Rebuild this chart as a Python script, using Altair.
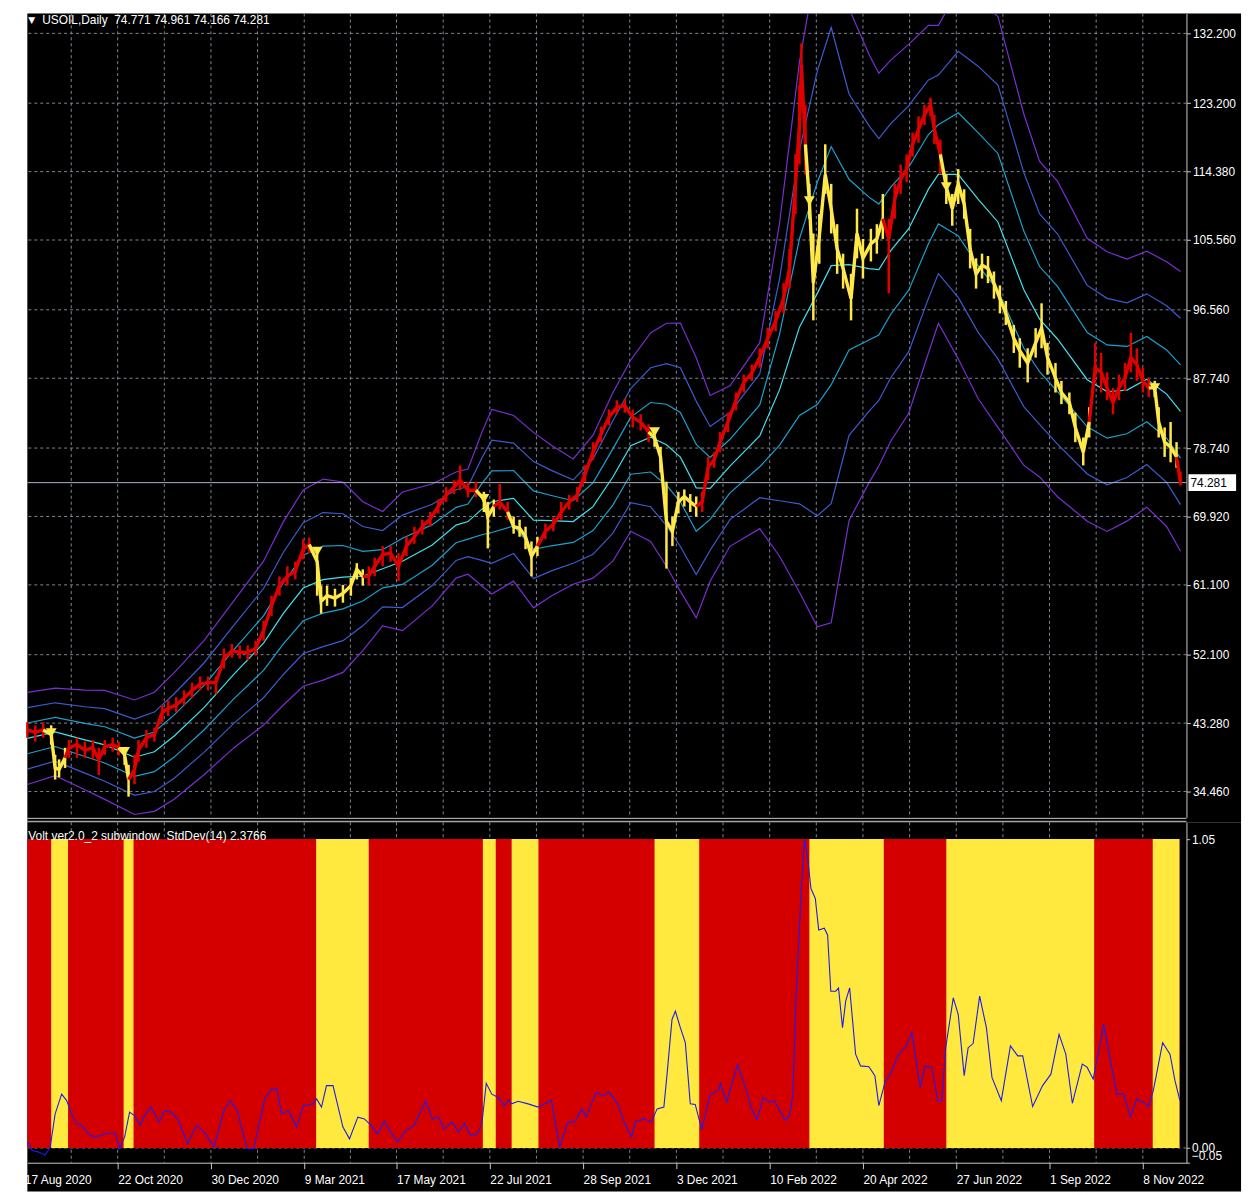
import json
import altair as alt
import pandas as pd

# ---------------- data ----------------
# x positions are bar numbers counted from the left edge of the chart
price_bar = [0, 4, 8, 12, 14, 16, 19, 21, 25, 29, 33, 36, 39, 43, 46, 49, 51, 54, 56, 60,
             64, 68, 71, 75, 79, 83, 87, 91, 95, 99, 103, 107, 111, 115, 119, 123, 127, 131, 135, 139,
             142, 146, 148, 151, 155, 159, 163, 166, 169, 172, 175, 179, 183, 187, 191, 195, 199, 203, 207, 211,
             215, 218, 222, 226, 230, 232, 235, 238, 242, 245, 248, 251, 254, 257, 261, 265, 269, 273, 277, 281,
             285, 289, 293, 297, 301, 305, 309, 313, 316, 319, 322, 325, 328, 331, 334, 337, 340, 343, 346, 349,
             353, 357, 361, 365, 369, 373, 377, 381, 384, 387, 389, 390, 392, 394, 396, 399, 402, 405, 408, 411,
             415, 418, 421, 425, 428, 431, 434, 437, 440, 443, 446, 449, 452, 455, 457, 460, 463, 466, 469, 472,
             475, 478, 481, 484, 487, 490, 493, 497, 500, 504, 508, 511, 514, 518, 521, 525, 528, 532, 535, 538,
             541, 544, 547, 550, 553, 556, 559, 562, 565, 568, 570, 573, 576, 579, 581]
price_close = [42.4, 42.1, 42.4, 41.8, 37.5, 37.3, 38.8, 40.1, 40.5, 39.8, 40.1, 38.6, 40.2, 40.5, 40.1, 39.2, 36.0, 37.3, 39.8, 41.4,
               41.8, 44.7, 45.2, 45.6, 46.5, 47.5, 48.3, 48.5, 48.5, 51.6, 52.6, 52.4, 52.4, 52.9, 55.2, 58.4, 61.0, 62.2, 62.9, 65.7,
               66.3, 64.1, 59.0, 59.7, 59.4, 60.0, 61.0, 63.1, 62.2, 62.2, 63.5, 65.0, 65.2, 63.5, 66.1, 67.3, 68.6, 69.6, 71.2, 72.7,
               73.7, 74.6, 73.3, 73.3, 72.2, 69.9, 71.2, 71.8, 70.5, 68.6, 68.4, 67.3, 64.8, 66.1, 68.0, 68.9, 70.5, 71.8, 72.7, 75.4,
               78.2, 80.5, 82.7, 84.0, 84.2, 82.7, 82.1, 80.8, 80.1, 77.6, 69.3, 68.0, 71.8, 72.5, 71.8, 71.2, 71.8, 76.3, 77.2, 79.5,
               82.1, 84.9, 87.2, 88.4, 90.4, 92.9, 95.1, 98.0, 101.9, 112.8, 120.4, 128.1, 117.9, 110.6, 100.0, 106.0, 114.0, 109.6, 104.4, 101.9,
               98.0, 106.4, 103.2, 105.1, 105.7, 108.3, 105.7, 110.8, 113.4, 114.7, 117.9, 119.8, 121.7, 123.0, 119.8, 116.6, 112.4, 109.6, 112.8, 110.2,
               104.4, 101.2, 102.3, 101.9, 100.0, 98.0, 96.1, 92.9, 91.3, 89.7, 92.3, 94.2, 90.4, 87.8, 85.9, 84.6, 81.4, 78.2, 82.1, 89.1,
               88.5, 86.5, 84.6, 86.5, 87.8, 90.4, 89.5, 87.4, 86.5, 86.5, 82.1, 79.5, 78.9, 77.6, 74.28]
price_high = [43.4, 43.0, 43.4, 43.0, 39.2, 38.6, 40.1, 41.1, 41.4, 40.9, 41.1, 40.1, 41.1, 41.4, 40.9, 40.1, 37.9, 39.2, 41.1, 42.4,
              42.7, 45.6, 46.2, 46.6, 47.5, 48.5, 49.3, 49.3, 49.3, 52.9, 53.5, 53.3, 53.3, 53.9, 56.5, 59.7, 62.2, 63.5, 64.1, 67.0,
              67.2, 65.7, 61.0, 61.0, 60.6, 61.1, 62.0, 63.9, 63.1, 63.5, 64.6, 66.1, 66.1, 65.2, 67.3, 68.6, 69.5, 70.5, 72.1, 73.7,
              74.6, 76.5, 74.4, 74.4, 73.1, 71.8, 72.1, 74.1, 71.8, 69.9, 69.5, 68.6, 66.7, 67.3, 69.0, 69.8, 71.8, 72.7, 73.7, 76.5,
              79.5, 81.5, 83.7, 84.9, 85.1, 83.7, 83.1, 81.8, 81.0, 78.9, 74.4, 69.9, 73.1, 73.4, 72.8, 72.5, 73.1, 77.6, 78.2, 80.8,
              83.3, 85.9, 88.2, 89.5, 91.6, 94.2, 96.4, 100.0, 104.4, 116.6, 125.5, 130.9, 123.0, 112.8, 106.4, 108.9, 117.9, 112.8, 107.6, 103.8,
              101.2, 109.6, 105.7, 107.0, 107.6, 111.5, 108.3, 112.8, 115.3, 116.6, 119.4, 121.5, 123.0, 123.9, 121.7, 118.5, 114.0, 111.5, 114.7, 112.1,
              107.0, 103.2, 103.8, 103.5, 101.5, 99.7, 97.7, 94.6, 92.9, 91.6, 94.2, 97.4, 92.3, 89.7, 87.4, 85.9, 83.3, 80.1, 84.0, 92.3,
              91.0, 88.5, 86.5, 88.2, 89.7, 93.6, 91.6, 89.1, 87.8, 87.4, 84.0, 81.4, 82.1, 79.5, 75.7]
price_low = [41.4, 40.9, 41.4, 40.5, 36.0, 36.3, 37.5, 38.8, 38.8, 38.8, 38.6, 36.6, 39.2, 39.6, 39.1, 37.9, 33.8, 35.4, 38.3, 40.1,
             40.9, 43.4, 44.2, 44.7, 45.6, 46.5, 47.5, 47.5, 47.0, 50.3, 51.7, 51.6, 51.4, 52.0, 53.9, 57.1, 59.7, 61.0, 61.8, 64.4,
             65.2, 59.7, 57.4, 58.4, 58.3, 58.8, 59.7, 61.8, 61.0, 61.0, 62.2, 63.5, 64.1, 61.6, 64.8, 66.4, 67.6, 68.6, 70.3, 71.8,
             72.8, 73.3, 72.4, 72.4, 70.5, 65.8, 69.9, 70.8, 69.5, 67.7, 67.3, 65.7, 62.2, 64.8, 67.0, 68.0, 69.5, 70.8, 71.8, 74.4,
             77.2, 79.5, 81.7, 83.1, 83.3, 81.4, 81.0, 79.5, 78.9, 75.6, 63.2, 66.1, 70.3, 71.2, 70.5, 69.9, 70.5, 74.6, 76.2, 78.2,
             80.8, 83.6, 85.9, 87.4, 89.1, 91.6, 93.8, 96.1, 99.3, 108.9, 115.3, 123.0, 114.0, 108.3, 95.2, 102.5, 111.5, 106.4, 101.2, 99.3,
             95.2, 103.2, 100.6, 102.8, 103.8, 105.7, 98.7, 108.3, 111.5, 113.0, 116.3, 118.1, 120.4, 121.5, 117.9, 114.0, 110.2, 107.4, 110.2, 108.3,
             101.9, 99.3, 100.6, 100.0, 98.0, 96.1, 94.6, 91.0, 89.1, 87.2, 90.4, 91.6, 88.2, 85.9, 84.4, 83.1, 79.5, 76.5, 80.1, 87.2,
             85.9, 84.9, 83.1, 84.9, 86.1, 88.5, 87.4, 85.9, 85.3, 85.3, 80.1, 77.6, 76.9, 76.2, 73.9]

# yellow regime spans (bars); everything else up to last_bar is red
yellow_start = [12, 48.5, 145.5, 229.5, 244, 316, 394, 463, 567]
yellow_end = [20.5, 53.5, 172, 236, 257.5, 338.5, 431.5, 537.5, 580.5]
last_bar = 580.5

# envelope: middle line and deviation, lines drawn at mid + k * dev
band_bar = [0, 14, 29, 39, 54, 64, 74, 89, 104, 119, 129, 139, 149, 159, 169, 179, 189, 204, 216, 222,
            229, 234, 245, 255, 264, 275, 285, 295, 304, 314, 322, 329, 337, 344, 354, 369, 379, 389, 398, 405,
            414, 424, 429, 435, 444, 454, 459, 469, 479, 489, 502, 510, 519, 534, 544, 554, 564, 574, 581]
band_mid = [41.31, 42.14, 41.11, 40.47, 38.88, 39.58, 41.62, 45.27, 49.56, 53.59, 57.43, 60.69, 61.78, 62.09, 62.22, 63.18, 64.14, 66.25, 68.81, 69.26,
            70.86, 71.82, 72.26, 69.45, 69.38, 69.26, 71.18, 75.01, 79.05, 80.13, 79.17, 77.57, 73.61, 73.54, 76.42, 80.32, 86.27, 94.33, 98.68, 102.26,
            102.39, 101.88, 101.75, 104.18, 106.99, 112.12, 114.03, 114.03, 110.83, 107.89, 99.19, 95.36, 92.8, 87.55, 86.02, 86.21, 87.62, 85.7, 83.46]
band_dev = [1.98, 1.88, 2.14, 2.34, 2.46, 2.56, 2.72, 2.88, 3.16, 3.52, 3.94, 4.22, 4.32, 4.09, 3.20, 2.46, 2.98, 2.62, 2.28, 2.26,
            3.30, 3.97, 3.56, 3.77, 3.24, 2.69, 3.07, 3.62, 3.68, 4.48, 5.22, 5.76, 5.59, 3.99, 3.45, 3.99, 7.16, 11.39, 14.33, 15.35,
            11.0, 9.21, 8.44, 8.19, 7.93, 7.04, 6.40, 7.93, 8.57, 8.83, 7.55, 6.78, 6.78, 6.08, 6.01, 5.63, 5.50, 5.69, 6.01]
band_mult = [-3, -2, -1, 0, 1, 2, 3]

# StdDev(14) sub-window line
sd_bar = [0, 2.3, 5.7, 9, 11.5, 14, 17.3, 19.8, 22.3, 24.8, 27.3, 30.7, 34, 37.3, 40.7, 44.3, 46.5, 49, 51.5, 54,
          57, 59, 62.3, 66.5, 69, 72.3, 75.7, 80.7, 85.3, 89.8, 94, 99, 102.3, 105.7, 110.7, 114, 119.8, 123.2, 125.7, 128.2,
          131.5, 135.7, 139, 144, 145.7, 148.2, 150.7, 154, 159, 162.3, 166.5, 169.8, 173.2, 176.5, 179.8, 183.2, 186.5, 190.7, 194.8, 200.7,
          204, 207.3, 209.8, 214, 217.3, 220.3, 223.2, 226.5, 229, 231.2, 234, 237.3, 240.3, 242.3, 244, 247.3, 252.3, 257.3, 264, 268.2,
          272.3, 275.7, 279.3, 281.5, 286.5, 289.8, 293.2, 297.3, 300.7, 304.3, 306.5, 310.7, 314.3, 317.3, 320.7, 322.3, 324.8, 326.5, 329, 331.5,
          334, 336.5, 339.8, 344, 348.2, 349.3, 352.3, 355.7, 357.8, 362.3, 364.8, 367.7, 370.7, 374, 376.5, 379, 381.8, 384, 385.7, 387.3,
          389.8, 391.5, 393.2, 394.8, 397, 398.7, 401.5, 403.2, 404.8, 407.3, 408.7, 410.7, 412.3, 414.3, 417.3, 419.8, 424, 427, 429, 432.3,
          434.8, 439, 442.3, 445.7, 449.8, 452.3, 455.7, 458.7, 460.7, 462.7, 466.5, 469, 472, 474, 476.5, 479.8, 483.2, 486, 490.7, 495.3,
          499, 501.5, 506.5, 511.5, 515.7, 519.8, 523.2, 526.5, 531.5, 534, 537, 542.3, 545.7, 549, 552.3, 555.7, 559, 562.3, 564.8, 567.3,
          572, 575.7, 578.2, 580.7]
sd_val = [0.020, -0.008, -0.014, -0.024, 0.003, 0.116, 0.183, 0.161, 0.116, 0.082, 0.077, 0.048, 0.037, 0.044, 0.051, 0.051, -0.002, 0.037, 0.122, 0.110,
          0.077, 0.110, 0.139, 0.088, 0.127, 0.122, 0.099, 0.015, 0.077, 0.048, 0.003, 0.127, 0.161, 0.127, -0.002, -0.002, 0.172, 0.200, 0.200, 0.116,
          0.127, 0.071, 0.144, 0.150, 0.167, 0.139, 0.212, 0.212, 0.071, 0.031, 0.105, 0.099, 0.077, 0.048, 0.091, 0.054, 0.020, 0.060, 0.077, 0.159,
          0.099, 0.105, 0.065, 0.088, 0.054, 0.084, 0.043, 0.046, 0.082, 0.220, 0.183, 0.172, 0.144, 0.163, 0.150, 0.159, 0.150, 0.139, 0.163, 0.003,
          0.088, 0.088, 0.133, 0.105, 0.189, 0.178, 0.189, 0.150, 0.088, 0.037, 0.091, 0.099, 0.088, 0.133, 0.139, 0.251, 0.437, 0.465, 0.409, 0.358,
          0.150, 0.148, 0.062, 0.183, 0.195, 0.220, 0.155, 0.234, 0.283, 0.195, 0.133, 0.096, 0.172, 0.155, 0.161, 0.127, 0.094, 0.110, 0.183, 0.521,
          0.859, 1.051, 0.983, 0.882, 0.848, 0.741, 0.747, 0.724, 0.533, 0.533, 0.544, 0.409, 0.499, 0.544, 0.319, 0.279, 0.276, 0.246, 0.144, 0.229,
          0.251, 0.319, 0.341, 0.392, 0.206, 0.279, 0.274, 0.161, 0.161, 0.341, 0.510, 0.454, 0.246, 0.341, 0.355, 0.516, 0.409, 0.240, 0.161, 0.347,
          0.313, 0.313, 0.141, 0.212, 0.251, 0.386, 0.319, 0.152, 0.285, 0.274, 0.234, 0.420, 0.296, 0.183, 0.183, 0.105, 0.167, 0.155, 0.141, 0.195,
          0.358, 0.319, 0.229, 0.161]

# regime-change arrows
arrow_bar = [12, 49, 146, 230, 316, 394, 463, 568]
arrow_val = [42.0, 39.6, 65.4, 72.2, 80.8, 110.6, 112.4, 86.5]

date_ticks = [-1.25, 45.5, 92.5, 139.5, 186, 233, 280, 327, 374, 421, 468, 515, 562]
date_labels = ["17 Aug 2020", "22 Oct 2020", "30 Dec 2020", "9 Mar 2021", "17 May 2021", "22 Jul 2021",
               "28 Sep 2021", "3 Dec 2021", "10 Feb 2022", "20 Apr 2022", "27 Jun 2022", "1 Sep 2022", "8 Nov 2022"]
price_ticks = [34.46, 43.28, 52.1, 61.1, 69.92, 78.74, 87.74, 96.56, 105.56, 114.38, 123.2, 132.2]
sub_ticks = [1.05, 0.0, -0.05]
hist_top = 1.05
hist_bottom = 0.0
ohlc = [74.771, 74.961, 74.166, 74.281]
symbol = "USOIL,Daily"
sub_title = "Volt ver2.0_2 subwindow\u00a0\u00a0StdDev(14) 2.3766"

# ---------------- styling ----------------
W = 1168
H_TOP = 810
H_SUB = 343
FONT = "Liberation Sans"
GRID = "#7d8894"
AXIS = "#c8c8c8"
RED_C = "#e00000"
YEL_C = "#ffe84a"
RED_B = "#d40000"
YEL_B = "#ffe93e"
SD_C = "#1c1cf0"
BAND_COLORS = ["#7a2fd2", "#3d5bd0", "#1aa2cf", "#3fe2ef", "#1aa2cf", "#3d5bd0", "#7a2fd2"]

xs = alt.Scale(domain=[0, 584], nice=False, zero=False)
ys = alt.Scale(domain=[31.13, 134.76], nice=False, zero=False)
ys2 = alt.Scale(domain=[-0.05, 1.107], nice=False, zero=False)


def regime(b):
    for s, e in zip(yellow_start, yellow_end):
        if s <= b < e:
            return "Y"
    return "R"


price_df = pd.DataFrame({"bar": price_bar, "close": price_close, "high": price_high, "low": price_low})
price_df["regime"] = [regime(b) for b in price_bar]

seg_rows = []
seg = 0
prev = None
for i, row in price_df.iterrows():
    if prev is not None and row["regime"] != prev["regime"]:
        seg += 1
        seg_rows.append({"bar": prev["bar"], "close": prev["close"], "regime": row["regime"], "seg": seg})
    seg_rows.append({"bar": row["bar"], "close": row["close"], "regime": row["regime"], "seg": seg})
    prev = row
seg_df = pd.DataFrame(seg_rows)

band_rows = []
for k in band_mult:
    for b, m, d in zip(band_bar, band_mid, band_dev):
        band_rows.append({"bar": b, "v": m + k * d, "k": k})
band_df = pd.DataFrame(band_rows)

in_ticks = [t for t in date_ticks if t >= 0]
grid_bars = in_ticks + [(a + b) / 2 for a, b in zip(date_ticks, date_ticks[1:])]
grid_df = pd.DataFrame({"bar": grid_bars})

x_top = alt.Axis(title=None, grid=False, labels=False, ticks=False, domain=False)
y_top_axis = alt.Axis(orient="right", values=price_ticks, format=".3f", title=None, grid=False,
                      domainColor=AXIS, tickColor=AXIS, tickSize=4, labelColor="white",
                      labelFont=FONT, labelFontSize=12, labelPadding=2, labelOverlap=False, zindex=1)

in_labels = [lab for t, lab in zip(date_ticks, date_labels) if t >= 0]
label_expr = f"{json.dumps(in_labels)}[indexof({json.dumps(in_ticks)}, datum.value)]"
x_sub_axis = alt.Axis(orient="bottom", values=in_ticks, labelExpr=label_expr, title=None, grid=False,
                      domainColor=AXIS, tickColor=AXIS, tickSize=6, labelColor="white",
                      labelFont=FONT, labelFontSize=12, labelAlign="left", labelBaseline="top",
                      labelPadding=6, labelFlush=False, labelOverlap=False, zindex=1)
y_sub_axis = alt.Axis(orient="right", values=sub_ticks, format=".2f", title=None, grid=False,
                      domainColor=AXIS, tickColor=AXIS, tickSize=3, labelColor="white",
                      labelFont=FONT, labelFontSize=12, labelPadding=2, labelOverlap=False, zindex=1,
                      labelBaseline={"condition": {"test": "datum.value < 0", "value": "bottom"}, "value": "middle"})

one = pd.DataFrame({"a": [0]})

# ---------------- upper panel ----------------
bg_top = alt.Chart(one).mark_rect(color="black").encode(
    x=alt.value(0), x2=alt.value(W + 55), y=alt.value(0), y2=alt.value(H_TOP + 5))
hgrid = alt.Chart(pd.DataFrame({"v": price_ticks})).mark_rule(color=GRID, strokeDash=[3, 3], strokeWidth=1).encode(
    y=alt.Y("v:Q", scale=ys, axis=y_top_axis))
vgrid = alt.Chart(grid_df).mark_rule(color=GRID, strokeDash=[3, 3], strokeWidth=1).encode(
    x=alt.X("bar:Q", scale=xs, axis=x_top))
bands = alt.Chart(band_df).mark_line(strokeWidth=1.2, clip=True).encode(
    x=alt.X("bar:Q", scale=xs, axis=x_top),
    y=alt.Y("v:Q", scale=ys, axis=y_top_axis),
    color=alt.Color("k:N", scale=alt.Scale(domain=band_mult, range=BAND_COLORS), legend=None),
    detail="k:N")
last_line = alt.Chart(pd.DataFrame({"v": [ohlc[3]]})).mark_rule(color="#a9b3bf", strokeWidth=1).encode(
    y=alt.Y("v:Q", scale=ys, axis=y_top_axis))
regime_color = alt.Color("regime:N", scale=alt.Scale(domain=["R", "Y"], range=[RED_C, YEL_C]), legend=None)
wicks = alt.Chart(price_df).mark_rule(strokeWidth=2.5).encode(
    x=alt.X("bar:Q", scale=xs, axis=x_top),
    y=alt.Y("low:Q", scale=ys, axis=y_top_axis), y2="high:Q", color=regime_color)
closes = alt.Chart(seg_df).mark_line(strokeWidth=3.4).encode(
    x=alt.X("bar:Q", scale=xs, axis=x_top),
    y=alt.Y("close:Q", scale=ys, axis=y_top_axis), color=regime_color, detail="seg:N")
arrows = alt.Chart(pd.DataFrame({"bar": arrow_bar, "v": arrow_val})).mark_point(
    shape="triangle-down", filled=True, size=120, color=YEL_C, opacity=1).encode(
    x=alt.X("bar:Q", scale=xs, axis=x_top), y=alt.Y("v:Q", scale=ys, axis=y_top_axis))
title_top = alt.Chart(one).mark_text(align="left", baseline="middle", color="white", font=FONT, fontSize=12).encode(
    x=alt.value(15), y=alt.value(7),
    text=alt.value(symbol + "\u00a0\u00a0" + " ".join(f"{v:.3f}" for v in ohlc)))
tri = alt.Chart(one).mark_text(align="left", baseline="middle", color="white", font="DejaVu Sans", fontSize=9).encode(
    x=alt.value(1), y=alt.value(7), text=alt.value("\u25bc"))
box = alt.Chart(pd.DataFrame({"v": [ohlc[3]]})).mark_point(
    shape="M-1,-0.354L1,-0.354L1,0.354L-1,0.354Z", size=2304, filled=True, color="white", opacity=1).encode(
    x=alt.value(W + 26), y=alt.Y("v:Q", scale=ys, axis=y_top_axis))
box_txt = alt.Chart(pd.DataFrame({"v": [ohlc[3]], "t": [f"{ohlc[3]:.3f}"]})).mark_text(
    align="left", baseline="middle", color="black", font=FONT, fontSize=12).encode(
    x=alt.value(W + 4), y=alt.Y("v:Q", scale=ys, axis=y_top_axis), text="t:N")
sep_top = alt.Chart(one).mark_rule(color=AXIS, strokeWidth=1).encode(
    x=alt.value(0), x2=alt.value(W), y=alt.value(H_TOP + 1))

top = alt.layer(bg_top, hgrid, vgrid, bands, last_line, wicks, closes, arrows, title_top, tri, box, box_txt,
                sep_top).resolve_scale(color="independent").properties(width=W, height=H_TOP)

# ---------------- sub window ----------------
bg_sub = alt.Chart(one).mark_rect(color="black").encode(
    x=alt.value(0), x2=alt.value(W + 55), y=alt.value(0), y2=alt.value(H_SUB + 29))
vgrid2 = alt.Chart(grid_df).mark_rule(color=GRID, strokeDash=[3, 3], strokeWidth=1).encode(
    x=alt.X("bar:Q", scale=xs, axis=x_sub_axis))
zero_line = alt.Chart(pd.DataFrame({"v": [hist_bottom]})).mark_rule(color=GRID, strokeDash=[3, 3], strokeWidth=1).encode(
    y=alt.Y("v:Q", scale=ys2, axis=y_sub_axis))
red_df = pd.DataFrame({"x0": [0], "x1": [last_bar], "y0": [hist_bottom], "y1": [hist_top]})
red_rect = alt.Chart(red_df).mark_rect(color=RED_B).encode(
    x=alt.X("x0:Q", scale=xs, axis=x_sub_axis), x2="x1:Q",
    y=alt.Y("y0:Q", scale=ys2, axis=y_sub_axis), y2="y1:Q")
yel_df = pd.DataFrame({"x0": yellow_start, "x1": yellow_end,
                       "y0": [hist_bottom] * len(yellow_start), "y1": [hist_top] * len(yellow_start)})
yel_rect = alt.Chart(yel_df).mark_rect(color=YEL_B).encode(
    x=alt.X("x0:Q", scale=xs, axis=x_sub_axis), x2="x1:Q",
    y=alt.Y("y0:Q", scale=ys2, axis=y_sub_axis), y2="y1:Q")
sd_line = alt.Chart(pd.DataFrame({"bar": sd_bar, "v": sd_val})).mark_line(color=SD_C, strokeWidth=1.1).encode(
    x=alt.X("bar:Q", scale=xs, axis=x_sub_axis), y=alt.Y("v:Q", scale=ys2, axis=y_sub_axis))
title_sub = alt.Chart(one).mark_text(align="left", baseline="middle", color="white", font=FONT, fontSize=12).encode(
    x=alt.value(1), y=alt.value(14), text=alt.value(sub_title))
sep_sub = alt.Chart(one).mark_rule(color=AXIS, strokeWidth=1).encode(
    x=alt.value(0), x2=alt.value(W), y=alt.value(-1))
# first date label sits just left of the plot edge (cut off by the frame in the original)
first_lab = alt.Chart(pd.DataFrame({"bar": [date_ticks[0]], "t": [date_labels[0]]})).mark_text(
    align="left", baseline="top", color="white", font=FONT, fontSize=12).encode(
    x=alt.X("bar:Q", scale=xs, axis=x_sub_axis), y=alt.value(H_SUB + 12), text="t:N")

sub = alt.layer(bg_sub, vgrid2, zero_line, red_rect, yel_rect, sd_line, title_sub, sep_sub, first_lab).properties(
    width=W, height=H_SUB)

chart = alt.vconcat(top, sub, spacing=5, bounds="flush").properties(
    padding={"left": 11.5, "top": 0, "right": 6, "bottom": 0}
).configure_view(strokeWidth=0).configure(background="white")

chart.save("out.html", embed_options={"renderer": "svg", "actions": False})
